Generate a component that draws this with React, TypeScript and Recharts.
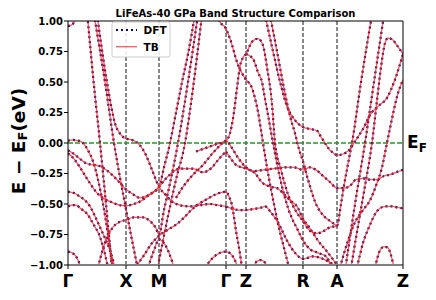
import React from 'react';
import { LineChart, Line, XAxis, YAxis, ReferenceLine } from 'recharts';

type Pt = [number, number];

// k-path positions of the high-symmetry points and their labels
const kTicks = [0, 58, 91, 158, 178, 235, 269, 335];
const kLabels = ['Γ', 'X', 'M', 'Γ', 'Z', 'R', 'A', 'Z'];
const eTicks = [-1, -0.75, -0.5, -0.25, 0, 0.25, 0.5, 0.75, 1];

// bands (k, E - E_F in eV)
const band01: Pt[] = [[0, 0.96], [3, 0.965], [6, 0.99], [9, 1.05]];
const band02: Pt[] = [[19, 1.08], [25, 0.55], [32, 0.0], [38, -0.5], [44, -1.03]];
const band03: Pt[] = [[26, 1.05], [37, 0.5], [46, 0.0], [57, -0.5], [69, -1.0]];
const band04: Pt[] = [[29, 1.05], [33, 0.82], [37, 0.6], [41, 0.4], [44, 0.27], [47, 0.16], [51, 0.09], [55, 0.05], [58, 0.036], [64, 0.025], [68, 0.01], [72, -0.02], [78, -0.1], [84, -0.22], [91, -0.36], [97, -0.42], [104, -0.48], [112, -0.51], [122, -0.52], [132, -0.51], [142, -0.5], [150, -0.51], [158, -0.52]];
const band05: Pt[] = [[0, 0.02], [5, 0.025], [10, 0.02], [15, 0.0], [20, -0.06], [25, -0.15], [30, -0.3], [35, -0.5], [40, -0.75], [45, -1.03]];
const band06: Pt[] = [[0, -0.06], [6, -0.09], [12, -0.13], [19, -0.17], [26, -0.18], [32, -0.19], [38, -0.22], [44, -0.26], [50, -0.31], [58, -0.38], [65, -0.42], [72, -0.45], [80, -0.43], [86, -0.4], [91, -0.36], [97, -0.3], [103, -0.25], [108, -0.22], [115, -0.21], [125, -0.21], [135, -0.24], [144, -0.2], [151, -0.13], [158, -0.07]];
const band07: Pt[] = [[0, -0.085], [6, -0.13], [12, -0.2], [18, -0.28], [22, -0.33], [28, -0.4], [35, -0.45], [45, -0.49], [52, -0.51], [58, -0.515], [66, -0.5], [74, -0.47], [82, -0.42], [91, -0.36], [96, -0.2], [102, 0.0], [108, 0.25], [114, 0.5], [120, 0.73], [127, 1.05]];
const band08: Pt[] = [[0, -0.4], [6, -0.41], [12, -0.44], [17, -0.47], [22, -0.52], [27, -0.6], [32, -0.69], [37, -0.78], [42, -0.88], [47, -1.02]];
const band09: Pt[] = [[0, -0.52], [4, -0.51], [8, -0.51], [13, -0.54], [19, -0.58], [25, -0.66], [32, -0.77], [36, -0.88], [40, -1.02]];
const band10: Pt[] = [[0, -0.89], [4, -0.9], [8, -0.93], [13, -1.02]];
const band11: Pt[] = [[30, -1.02], [36, -0.84], [40, -0.76], [45, -0.69], [51, -0.65], [58, -0.63], [66, -0.61], [75, -0.61], [82, -0.64], [88, -0.7], [91, -0.75], [96, -0.55], [102, -0.33], [110, 0.0], [120, 0.5], [130, 1.05]];
const band12: Pt[] = [[69, -1.0], [76, -0.92], [84, -0.82], [91, -0.76], [100, -0.71], [108, -0.67], [115, -0.62], [122, -0.56], [129, -0.51], [139, -0.46], [148, -0.42], [158, -0.4], [161, -0.44], [164, -0.51], [168, -0.72], [171, -0.86], [174, -1.02]];
const band13: Pt[] = [[80, -1.02], [86, -0.88], [91, -0.79], [96, -0.82], [101, -0.9], [106, -1.02]];
const band14: Pt[] = [[89, -1.05], [100, -0.6], [108, -0.3], [117, 0.0], [125, 0.45], [134, 1.05]];
const band15: Pt[] = [[108, -0.45], [115, -0.36], [125, -0.26], [135, -0.18], [145, -0.08], [152, -0.02], [158, 0.02], [163, -0.03], [170, -0.12], [178, -0.2], [186, -0.23], [196, -0.22], [206, -0.21], [216, -0.2], [226, -0.2], [235, -0.22], [242, -0.2], [248, -0.22], [255, -0.27], [262, -0.32], [269, -0.37], [276, -0.37], [282, -0.35], [288, -0.3], [295, -0.29], [302, -0.3], [309, -0.3], [316, -0.27], [322, -0.26], [328, -0.24], [335, -0.22]];
const band16: Pt[] = [[128, -0.07], [138, -0.04], [148, -0.01], [158, 0.02], [162, 0.08], [165, 0.2], [169, 0.45], [172, 0.63], [175, 0.7], [178, 0.73], [184, 0.83], [190, 0.855], [195, 0.8], [199, 0.62], [204, 0.32], [207, 0.0], [213, -0.22], [220, -0.42], [228, -0.56], [235, -0.64], [242, -0.72], [249, -0.74], [256, -0.72], [262, -0.69], [269, -0.68], [273, -0.5], [276, -0.35], [280, -0.17], [284, 0.0], [293, 0.5], [304, 1.05]];
const band17: Pt[] = [[158, -0.07], [163, -0.13], [168, -0.18], [178, -0.21], [186, -0.24], [195, -0.33], [203, -0.36], [209, -0.37], [216, -0.42], [222, -0.47], [229, -0.52], [235, -0.62], [242, -0.7], [250, -0.8], [260, -0.9], [269, -1.0]];
const band18: Pt[] = [[158, -0.52], [165, -0.54], [172, -0.55], [178, -0.55], [186, -0.54], [193, -0.53], [197, -0.52], [203, -0.57], [210, -0.65], [219, -0.8], [227, -0.9], [235, -0.95], [245, -0.93], [255, -0.95], [262, -0.98], [270, -1.02]];
const band19: Pt[] = [[137, -1.02], [145, -0.94], [152, -0.9], [158, -0.89], [164, -0.92], [170, -1.02]];
const band20: Pt[] = [[185, -1.02], [189, -0.97], [193, -0.96], [197, -0.98], [200, -1.02]];
const band21: Pt[] = [[178, 0.73], [185, 0.69], [190, 0.58], [194, 0.5], [197, 0.36], [200, 0.23], [205, 0.0], [211, -0.25], [217, -0.45], [223, -0.6], [229, -0.7], [235, -0.8], [242, -0.87], [250, -0.9], [258, -0.93], [264, -1.02]];
const band22: Pt[] = [[148, 1.05], [153, 0.98], [157, 0.95], [162, 0.855], [170, 0.64], [177, 0.53], [184, 0.45], [190, 0.255], [195, 0.0], [199, -0.2], [204, -0.42], [210, -0.66], [216, -0.86], [221, -1.02]];
const band23: Pt[] = [[197, 1.05], [205, 0.75], [213, 0.47], [219, 0.3], [224, 0.22], [230, 0.16], [235, 0.13], [242, 0.115], [249, 0.1], [253, 0.05], [257, 0.0], [261, -0.05], [265, -0.08], [269, -0.1], [275, -0.09], [282, -0.05], [286, 0.0], [290, 0.05], [296, 0.13], [302, 0.23], [310, 0.3], [319, 0.37], [327, 0.52], [335, 0.73]];
const band24: Pt[] = [[202, 1.05], [209, 0.75], [216, 0.45], [222, 0.22], [227, 0.08], [231, -0.05], [235, -0.15], [240, -0.3], [248, -0.5], [256, -0.6], [262, -0.64], [269, -0.68]];
const band25: Pt[] = [[272, -1.02], [280, -0.8], [287, -0.65], [295, -0.55], [302, -0.47], [308, -0.35], [314, -0.2], [319, 0.0], [324, 0.2], [329, 0.38], [335, 0.52]];
const band26: Pt[] = [[277, -1.05], [287, -0.5], [297, 0.0], [306, 0.5], [316, 1.05]];
const band27: Pt[] = [[283, -1.02], [290, -0.68], [297, -0.35], [304, 0.0], [309, 0.35], [313, 0.62], [317, 0.82], [320, 0.86], [324, 0.85], [329, 0.8], [335, 0.73]];
const band28: Pt[] = [[289, -1.02], [295, -0.82], [302, -0.67], [308, -0.57], [312, -0.535], [318, -0.52], [325, -0.52], [330, -0.53], [335, -0.535]];
const band29: Pt[] = [[307, -1.02], [312, -0.88], [316, -0.85], [320, -0.86], [323, -0.92], [326, -1.02]];

const bands: Pt[][] = [
  band01, band02, band03, band04, band05, band06, band07, band08, band09, band10,
  band11, band12, band13, band14, band15, band16, band17, band18, band19, band20,
  band21, band22, band23, band24, band25, band26, band27, band28, band29,
];

const FONT = 'DejaVu Sans, sans-serif';
const DFT_COLOR = '#00007f';
const TB_COLOR = '#ff2020';

const labelFor = (v: number) => {
  const i = kTicks.indexOf(v);
  return i >= 0 ? kLabels[i] : '';
};

export default function App() {
  const series = bands.map((b) => b.map(([k, e]) => ({ k, e })));
  return (
    <div style={{ position: 'relative', width: 428, height: 292, fontFamily: FONT }}>
      <LineChart width={428} height={292} margin={{ top: 13, right: 33, bottom: 5, left: 0 }}>
        <XAxis
          type="number"
          dataKey="k"
          domain={[0, 335]}
          ticks={kTicks}
          tickFormatter={labelFor}
          allowDataOverflow
          interval={0}
          height={30}
          tickSize={4}
          tickMargin={6}
          axisLine={{ stroke: '#808080', strokeWidth: 2 }}
          tickLine={{ stroke: '#000' }}
          tick={{ fill: '#000', fontSize: 17, fontWeight: 'bold', fontFamily: FONT }}
        />
        <YAxis
          type="number"
          domain={[-1, 1]}
          ticks={eTicks}
          allowDataOverflow
          width={60}
          interval={0}
          tickSize={4}
          tickMargin={1}
          tickFormatter={(v: number) => v.toFixed(2).replace('-', '\u2212')}
          axisLine={{ stroke: '#000' }}
          tickLine={{ stroke: '#000' }}
          tick={{ fill: '#000', fontSize: 10, fontWeight: 'bold', fontFamily: FONT }}
        />
        {kTicks.slice(1, -1).map((k, i) => (
          <ReferenceLine key={'v' + i} x={k} stroke="#111" strokeWidth={1} strokeDasharray="4 2" />
        ))}
        <ReferenceLine y={0} stroke="#1f9a1f" strokeWidth={1.3} strokeDasharray="5 2" />
        {series.map((d, i) => (
          <Line
            key={'dft' + i}
            data={d}
            dataKey="e"
            type="monotone"
            stroke={DFT_COLOR}
            strokeWidth={2.2}
            strokeDasharray="2 3"
            dot={false}
            activeDot={false}
            isAnimationActive={false}
            legendType="none"
          />
        ))}
        {series.map((d, i) => (
          <Line
            key={'tb' + i}
            data={d}
            dataKey="e"
            type="monotone"
            stroke={TB_COLOR}
            strokeOpacity={0.75}
            strokeWidth={1.3}
            dot={false}
            activeDot={false}
            isAnimationActive={false}
            legendType="none"
          />
        ))}
      </LineChart>
      <svg
        width={428}
        height={292}
        style={{ position: 'absolute', left: 0, top: 0, pointerEvents: 'none' }}
      >
        <line x1={60} y1={13} x2={395} y2={13} stroke="#000" strokeWidth={1} />
        <line x1={395} y1={13} x2={395} y2={257} stroke="#000" strokeWidth={1} />
        <text x={227.5} y={8.5} textAnchor="middle" fontSize={10} fontWeight="bold" fontFamily={FONT}>
          LiFeAs-40 GPa Band Structure Comparison
        </text>
        <g>
          <rect x={104} y={14} width={58} height={35} rx={2} fill="#fff" fillOpacity={0.85} stroke="#ccc" />
          <line x1={108} y1={22} x2={129} y2={22} stroke={DFT_COLOR} strokeWidth={2.2} strokeDasharray="2 3" />
          <text x={135.5} y={26.3} fontSize={10.5} fontWeight="bold" fontFamily={FONT}>DFT</text>
          <line x1={108} y1={38.7} x2={129} y2={38.7} stroke={TB_COLOR} strokeOpacity={0.75} strokeWidth={1.3} />
          <text x={135.5} y={43} fontSize={10.5} fontWeight="bold" fontFamily={FONT}>TB</text>
        </g>
        <text
          x={10}
          y={133}
          transform="rotate(-90 10 133)"
          textAnchor="middle"
          dominantBaseline="central"
          fontSize={18.5}
          fontWeight="bold"
          fontFamily={FONT}
        >
          E − E<tspan dy={4} fontSize={13}>F</tspan><tspan dy={-4}>(eV)</tspan>
        </text>
        <text x={399} y={140} fontSize={17} fontWeight="bold" fontFamily={FONT}>
          E<tspan dy={4} fontSize={12}>F</tspan>
        </text>
      </svg>
    </div>
  );
}
